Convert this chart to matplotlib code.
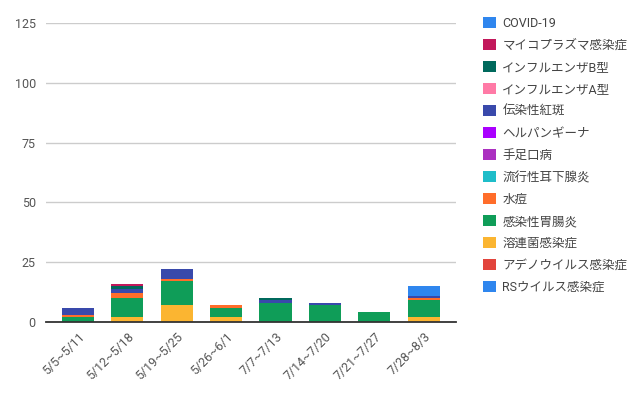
import numpy as np
import matplotlib
matplotlib.use("Agg")
import matplotlib.pyplot as plt
from matplotlib.patches import Patch

plt.rcParams['font.family'] = ['Roboto', 'Noto Sans CJK JP', 'DejaVu Sans']

weeks = ["5/5~5/11", "5/12~5/18", "5/19~5/25", "5/26~6/1",
         "7/7~7/13", "7/14~7/20", "7/21~7/27", "7/28~8/3"]

# series in stacking order (bottom -> top)
series_names = ["RSウイルス感染症", "アデノウイルス感染症", "溶連菌感染症", "感染性胃腸炎",
                "水痘", "流行性耳下腺炎", "手足口病", "ヘルパンギーナ",
                "伝染性紅斑", "インフルエンザA型", "インフルエンザB型",
                "マイコプラズマ感染症", "COVID-19"]
rs = [0, 0, 0, 0, 0, 0, 0, 0]
adeno = [0, 0, 0, 0, 0, 0, 0, 0]
strep = [0, 2, 7, 2, 0, 0, 0, 2]
gastro = [2, 8, 10, 4, 8, 7, 4, 7]
varicella = [1, 2, 1, 1, 0, 0, 0, 1]
mumps = [0, 0, 0, 0, 0, 0, 0, 0]
hfmd = [0, 0, 0, 0, 0, 0, 0, 0]
herpangina = [0, 0, 0, 0, 0, 0, 0, 0]
erythema = [3, 2, 4, 0, 1, 1, 0, 1]
flu_a = [0, 0, 0, 0, 0, 0, 0, 0]
flu_b = [0, 1, 0, 0, 1, 0, 0, 0]
mycoplasma = [0, 1, 0, 0, 0, 0, 0, 0]
covid = [0, 0, 0, 0, 0, 0, 0, 4]
series_values = [rs, adeno, strep, gastro, varicella, mumps, hfmd, herpangina,
                 erythema, flu_a, flu_b, mycoplasma, covid]
colors = ["#2f86ee", "#e2443c", "#fbb531", "#0f9d58", "#ff6d2a", "#1fbdc9",
          "#ab30c0", "#aa00ff", "#3949ab", "#ff7aa6", "#00695c", "#c2185b",
          "#2f86ee"]
yticks = [0, 25, 50, 75, 100, 125]

fig = plt.figure(figsize=(6.37, 3.93), dpi=100)
ax = fig.add_axes([45.5 / 637, 1 - 322 / 393, 410.5 / 637, 299 / 393])

x = np.arange(len(weeks))
bottom = np.zeros(len(weeks))
for name, vals, c in zip(series_names, series_values, colors):
    ax.bar(x, vals, bottom=bottom, width=0.65, color=c, label=name, zorder=3)
    bottom += np.array(vals)

ax.set_xlim(-0.655, len(weeks) - 1 + 0.655)
ax.set_ylim(0, 125)
ax.set_yticks(yticks)
ax.set_yticklabels([str(t) for t in yticks], fontsize=9, color="#555555")
ax.grid(axis="y", color="#cccccc", lw=1, zorder=0)
ax.tick_params(length=0, pad=7)
for s in ["top", "right", "left"]:
    ax.spines[s].set_visible(False)
ax.spines["bottom"].set_color("#333333")
ax.spines["bottom"].set_linewidth(1.3)
ax.spines["bottom"].set_zorder(4)

ax.set_xticks(x)
ax.set_xticklabels(weeks, rotation=45, ha="right", rotation_mode="anchor",
                   fontsize=9, color="#555555")
ax.tick_params(axis="x", pad=6)

handles = [Patch(facecolor=c, edgecolor="none") for c in colors[::-1]]
fig.legend(handles, series_names[::-1], loc="upper left",
           bbox_to_anchor=(478 / 637, 1 - 12 / 393), frameon=False,
           fontsize=9, labelcolor="#444444", handlelength=1.0, handleheight=1.0,
           handletextpad=0.55, labelspacing=0.72, borderaxespad=0)

fig.savefig("out.png", dpi=100)
